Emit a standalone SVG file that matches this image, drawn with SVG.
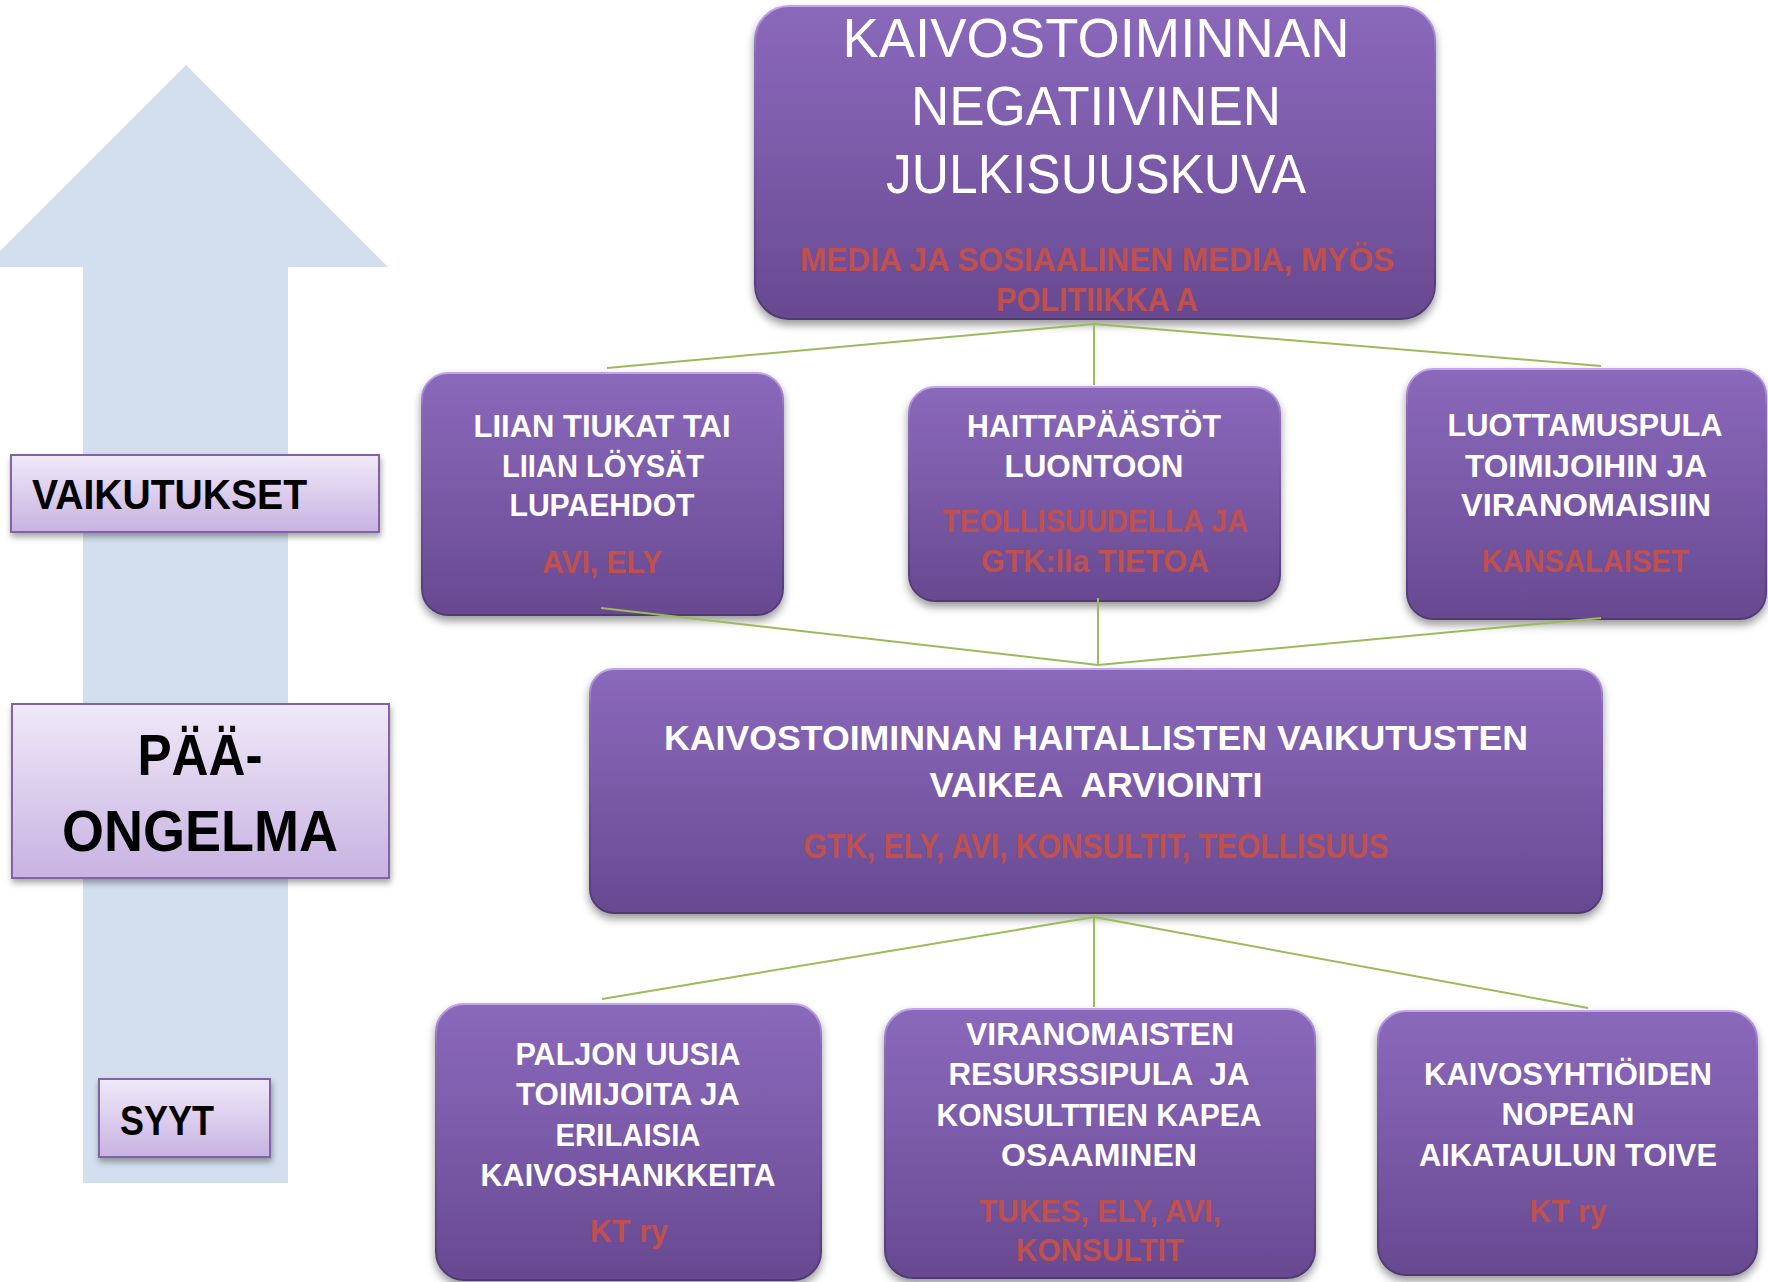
<svg xmlns="http://www.w3.org/2000/svg" width="1768" height="1282" viewBox="0 0 1768 1282">
<defs>
<linearGradient id="pg" x1="0" y1="0" x2="0" y2="1">
<stop offset="0" stop-color="#8a68bb"/>
<stop offset="0.5" stop-color="#7a5aa8"/>
<stop offset="1" stop-color="#674990"/>
</linearGradient>
<linearGradient id="pst" x1="0" y1="0" x2="0" y2="1">
<stop offset="0" stop-color="#c2a8ea"/>
<stop offset="0.15" stop-color="#8a6bb8"/>
<stop offset="1" stop-color="#4f3a72"/>
</linearGradient>
<linearGradient id="lg" x1="0" y1="0" x2="0" y2="1">
<stop offset="0" stop-color="#efe9f8"/>
<stop offset="1" stop-color="#c8b2e2"/>
</linearGradient>
<filter id="sh" x="-10%" y="-10%" width="120%" height="130%">
<feDropShadow dx="0" dy="5" stdDeviation="4" flood-color="#000" flood-opacity="0.4"/>
</filter>
<filter id="sh2" x="-10%" y="-10%" width="120%" height="130%">
<feDropShadow dx="1" dy="4" stdDeviation="3" flood-color="#000" flood-opacity="0.35"/>
</filter>
</defs>
<style>
.box{fill:url(#pg);stroke:url(#pst);stroke-width:2;filter:url(#sh)}
.lab{fill:url(#lg);stroke:#8064a2;stroke-width:2;filter:url(#sh2)}
.w{font-family:"Liberation Sans",Arial,sans-serif;font-weight:bold;fill:#ffffff;text-anchor:middle}
.wt{font-family:"Liberation Sans",Arial,sans-serif;fill:#ffffff;text-anchor:middle}
.r{font-family:"Liberation Sans",Arial,sans-serif;font-weight:bold;fill:#c0504d;text-anchor:middle}
.k{font-family:"Liberation Sans",Arial,sans-serif;font-weight:bold;fill:#000000}
.c{fill:none;stroke:#9bbb59;stroke-width:2}
</style>
<rect width="1768" height="1282" fill="#ffffff"/>
<g id="arrow">
<polygon points="186,65 388,267 288,267 288,1183 83,1183 83,267 -16,267" fill="#d3dfee"/>
</g>
<g id="label-vaikutukset">
<rect class="lab" x="11" y="455" width="368" height="77"/>
<text class="k" x="32" y="509" font-size="42" textLength="275" lengthAdjust="spacingAndGlyphs">VAIKUTUKSET</text>
</g>
<g id="label-paaongelma">
<rect class="lab" x="12" y="704" width="377" height="174"/>
<text class="k" x="200" y="775" font-size="57" text-anchor="middle" textLength="125" lengthAdjust="spacingAndGlyphs">PÄÄ-</text>
<text class="k" x="200" y="851" font-size="57" text-anchor="middle" textLength="276" lengthAdjust="spacingAndGlyphs">ONGELMA</text>
</g>
<g id="label-syyt">
<rect class="lab" x="99" y="1079" width="171" height="78"/>
<text class="k" x="120" y="1135" font-size="42" textLength="94" lengthAdjust="spacingAndGlyphs">SYYT</text>
</g>
<g id="node-top">
<rect class="box" x="755" y="6" width="680" height="313" rx="34"/>
<text class="wt" x="1096" y="57" font-size="56" textLength="507" lengthAdjust="spacingAndGlyphs">KAIVOSTOIMINNAN</text>
<text class="wt" x="1096" y="125" font-size="56" textLength="370" lengthAdjust="spacingAndGlyphs">NEGATIIVINEN</text>
<text class="wt" x="1096" y="193" font-size="56" textLength="420" lengthAdjust="spacingAndGlyphs">JULKISUUSKUVA</text>
<text class="r" x="1097" y="271" font-size="34" textLength="594" lengthAdjust="spacingAndGlyphs">MEDIA JA SOSIAALINEN MEDIA, MYÖS</text>
<text class="r" x="1097" y="311" font-size="34" textLength="202" lengthAdjust="spacingAndGlyphs">POLITIIKKA A</text>
</g>
<g id="node-lupaehdot">
<rect class="box" x="422" y="373" width="361" height="242" rx="26"/>
<text class="w" x="602" y="437" font-size="31" textLength="257" lengthAdjust="spacingAndGlyphs">LIIAN TIUKAT TAI</text>
<text class="w" x="603" y="477" font-size="31" textLength="202" lengthAdjust="spacingAndGlyphs">LIIAN LÖYSÄT</text>
<text class="w" x="602" y="516" font-size="31" textLength="185" lengthAdjust="spacingAndGlyphs">LUPAEHDOT</text>
<text class="r" x="602" y="573" font-size="32" textLength="120" lengthAdjust="spacingAndGlyphs">AVI, ELY</text>
</g>
<g id="node-haittapaastot">
<rect class="box" x="909" y="387" width="371" height="214" rx="26"/>
<text class="w" x="1094" y="437" font-size="31" textLength="254" lengthAdjust="spacingAndGlyphs">HAITTAPÄÄSTÖT</text>
<text class="w" x="1094" y="477" font-size="31" textLength="179" lengthAdjust="spacingAndGlyphs">LUONTOON</text>
<text class="r" x="1095" y="532" font-size="32" textLength="306" lengthAdjust="spacingAndGlyphs">TEOLLISUUDELLA JA</text>
<text class="r" x="1095" y="572" font-size="32" textLength="228" lengthAdjust="spacingAndGlyphs">GTK:lla TIETOA</text>
</g>
<g id="node-luottamuspula">
<rect class="box" x="1407" y="369" width="359" height="250" rx="26"/>
<text class="w" x="1585" y="436" font-size="31" textLength="275" lengthAdjust="spacingAndGlyphs">LUOTTAMUSPULA</text>
<text class="w" x="1586" y="477" font-size="31" textLength="242" lengthAdjust="spacingAndGlyphs">TOIMIJOIHIN JA</text>
<text class="w" x="1586" y="516" font-size="31" textLength="250" lengthAdjust="spacingAndGlyphs">VIRANOMAISIIN</text>
<text class="r" x="1585" y="572" font-size="32" textLength="207" lengthAdjust="spacingAndGlyphs">KANSALAISET</text>
</g>
<g id="node-main">
<rect class="box" x="590" y="669" width="1012" height="244" rx="24"/>
<text class="w" x="1096" y="750" font-size="35" textLength="864" lengthAdjust="spacingAndGlyphs">KAIVOSTOIMINNAN HAITALLISTEN VAIKUTUSTEN</text>
<text class="w" x="1096" y="797" font-size="35" textLength="333" lengthAdjust="spacingAndGlyphs" xml:space="preserve">VAIKEA  ARVIOINTI</text>
<text class="r" x="1096" y="858" font-size="35" textLength="585" lengthAdjust="spacingAndGlyphs">GTK, ELY, AVI, KONSULTIT, TEOLLISUUS</text>
</g>
<g id="node-toimijoita">
<rect class="box" x="436" y="1004" width="385" height="276" rx="28"/>
<text class="w" x="628" y="1065" font-size="31" textLength="225" lengthAdjust="spacingAndGlyphs">PALJON UUSIA</text>
<text class="w" x="628" y="1105" font-size="31" textLength="224" lengthAdjust="spacingAndGlyphs">TOIMIJOITA JA</text>
<text class="w" x="628" y="1146" font-size="31" textLength="145" lengthAdjust="spacingAndGlyphs">ERILAISIA</text>
<text class="w" x="628" y="1186" font-size="31" textLength="295" lengthAdjust="spacingAndGlyphs">KAIVOSHANKKEITA</text>
<text class="r" x="629" y="1242" font-size="32" textLength="78" lengthAdjust="spacingAndGlyphs">KT ry</text>
</g>
<g id="node-resurssipula">
<rect class="box" x="885" y="1009" width="430" height="269" rx="28"/>
<text class="w" x="1100" y="1045" font-size="31" textLength="268" lengthAdjust="spacingAndGlyphs">VIRANOMAISTEN</text>
<text class="w" x="1099" y="1085" font-size="31" textLength="301" lengthAdjust="spacingAndGlyphs" xml:space="preserve">RESURSSIPULA  JA</text>
<text class="w" x="1099" y="1126" font-size="31" textLength="325" lengthAdjust="spacingAndGlyphs">KONSULTTIEN KAPEA</text>
<text class="w" x="1099" y="1166" font-size="31" textLength="196" lengthAdjust="spacingAndGlyphs">OSAAMINEN</text>
<text class="r" x="1100" y="1222" font-size="32" textLength="242" lengthAdjust="spacingAndGlyphs">TUKES, ELY, AVI,</text>
<text class="r" x="1100" y="1261" font-size="32" textLength="168" lengthAdjust="spacingAndGlyphs">KONSULTIT</text>
</g>
<g id="node-aikataulu">
<rect class="box" x="1378" y="1011" width="379" height="264" rx="28"/>
<text class="w" x="1568" y="1085" font-size="31" textLength="288" lengthAdjust="spacingAndGlyphs">KAIVOSYHTIÖIDEN</text>
<text class="w" x="1568" y="1125" font-size="31" textLength="133" lengthAdjust="spacingAndGlyphs">NOPEAN</text>
<text class="w" x="1568" y="1166" font-size="31" textLength="298" lengthAdjust="spacingAndGlyphs">AIKATAULUN TOIVE</text>
<text class="r" x="1568" y="1222" font-size="32" textLength="77" lengthAdjust="spacingAndGlyphs">KT ry</text>
</g>
<g id="connectors">
<line class="c" x1="1094" y1="324" x2="607" y2="368"/>
<line class="c" x1="1094" y1="324" x2="1094" y2="385"/>
<line class="c" x1="1094" y1="324" x2="1601" y2="366"/>
<line class="c" x1="601" y1="608" x2="1098" y2="665"/>
<line class="c" x1="1098" y1="598" x2="1098" y2="665"/>
<line class="c" x1="1601" y1="618" x2="1098" y2="665"/>
<line class="c" x1="1094" y1="917" x2="602" y2="999"/>
<line class="c" x1="1094" y1="917" x2="1094" y2="1007"/>
<line class="c" x1="1094" y1="917" x2="1588" y2="1008"/>
</g>
</svg>
